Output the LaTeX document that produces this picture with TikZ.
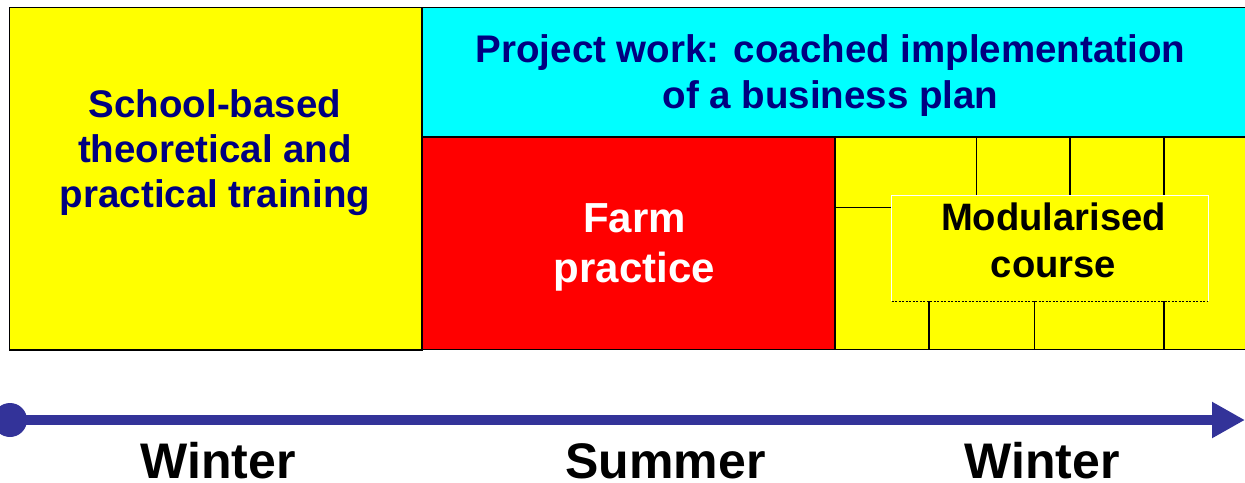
\documentclass[tikz,border=0pt]{standalone}
\usepackage{fontspec}
\setmainfont{Liberation Sans}
\usetikzlibrary{arrows.meta}
\definecolor{boxyellow}{RGB}{255,255,0}
\definecolor{boxcyan}{RGB}{0,255,255}
\definecolor{boxred}{RGB}{255,0,0}
\definecolor{navytext}{RGB}{0,0,128}
\definecolor{timeblue}{RGB}{51,51,153}
\begin{document}
\begin{tikzpicture}[x=1pt,y=-1pt,
  panel/.style={draw=black, line width=1.5pt, anchor=north west,
    inner sep=0pt, outer sep=0pt},
  grid/.style={draw=black, line width=1.5pt},
  navylabel/.style={text=navytext, align=center, inner sep=0pt,
    font=\fontsize{38.5}{45}\selectfont\bfseries},
  season/.style={anchor=base, inner sep=0pt,
    font=\fontsize{50}{60}\selectfont\bfseries},
  timeline/.style={draw=timeblue, line width=10pt,
    -{Triangle[length=33pt,width=34pt]}}]
\useasboundingbox (0,0) rectangle (1245,482);

% Phase panels
\node[panel, fill=boxyellow, minimum width=412.5pt, minimum height=342.5pt] (school) at (9.5,7.5) {};
\node[panel, fill=boxcyan, minimum width=830pt, minimum height=129.5pt] (project) at (422,7.5) {};
\node[panel, fill=boxred, minimum width=413pt, minimum height=212.5pt] (farm) at (422,137) {};
\node[panel, fill=boxyellow, minimum width=420pt, minimum height=212.5pt] (modules) at (835,137) {};

% Module grid
\draw[grid] (976.7,137) -- (976.7,195.7);
\draw[grid] (1070,137) -- (1070,195.7);
\draw[grid] (1164,137) -- (1164,195.7);
\draw[grid] (835,207.7) -- (891.7,207.7);
\draw[grid] (929,301) -- (929,350);
\draw[grid] (1034.7,301) -- (1034.7,350);
\draw[grid] (1164,301) -- (1164,350);

% Module label plate
\node[fill=boxyellow, anchor=north west, inner sep=0pt, outer sep=0pt,
  minimum width=316.3pt, minimum height=105.3pt] (plate) at (891.7,195.7) {};
\draw[white, line width=0.8pt] (plate.south west) -- (plate.north west)
  -- (plate.north east) -- (plate.south east);
\draw[black, line width=1pt, dash pattern=on 2pt off 1.5pt]
  (plate.south west) -- (plate.south east);

% Panel texts
\node[navylabel] (schooltext) at (215,153) {School-based\\theoretical and\\practical training};
\node[navylabel, font=\fontsize{38.5}{46}\selectfont\bfseries] (projecttext) at (830.5,76) {Project work: coached implementation\\of a business plan};
\node[align=center, inner sep=0pt, text=white,
  font=\fontsize{42}{50}\selectfont\bfseries] (farmtext) at (634.5,247.5) {Farm\\practice};
\node[align=center, inner sep=0pt, text=black,
  font=\fontsize{38.2}{46.6}\selectfont\bfseries] (moduletext) at (1053.5,240.5) {Modularised\\course};

% Time axis
\node[circle, fill=timeblue, minimum size=34pt, inner sep=0pt] (start) at (10,420) {};
\coordinate (finish) at (1245,420);
\draw[timeline] (start.center) -- (finish);

\node[season] (winter1) at (218,478) {Winter};
\node[season] (summer) at (665.5,478) {Summer};
\node[season] (winter2) at (1042,478) {Winter};
\end{tikzpicture}
\end{document}
